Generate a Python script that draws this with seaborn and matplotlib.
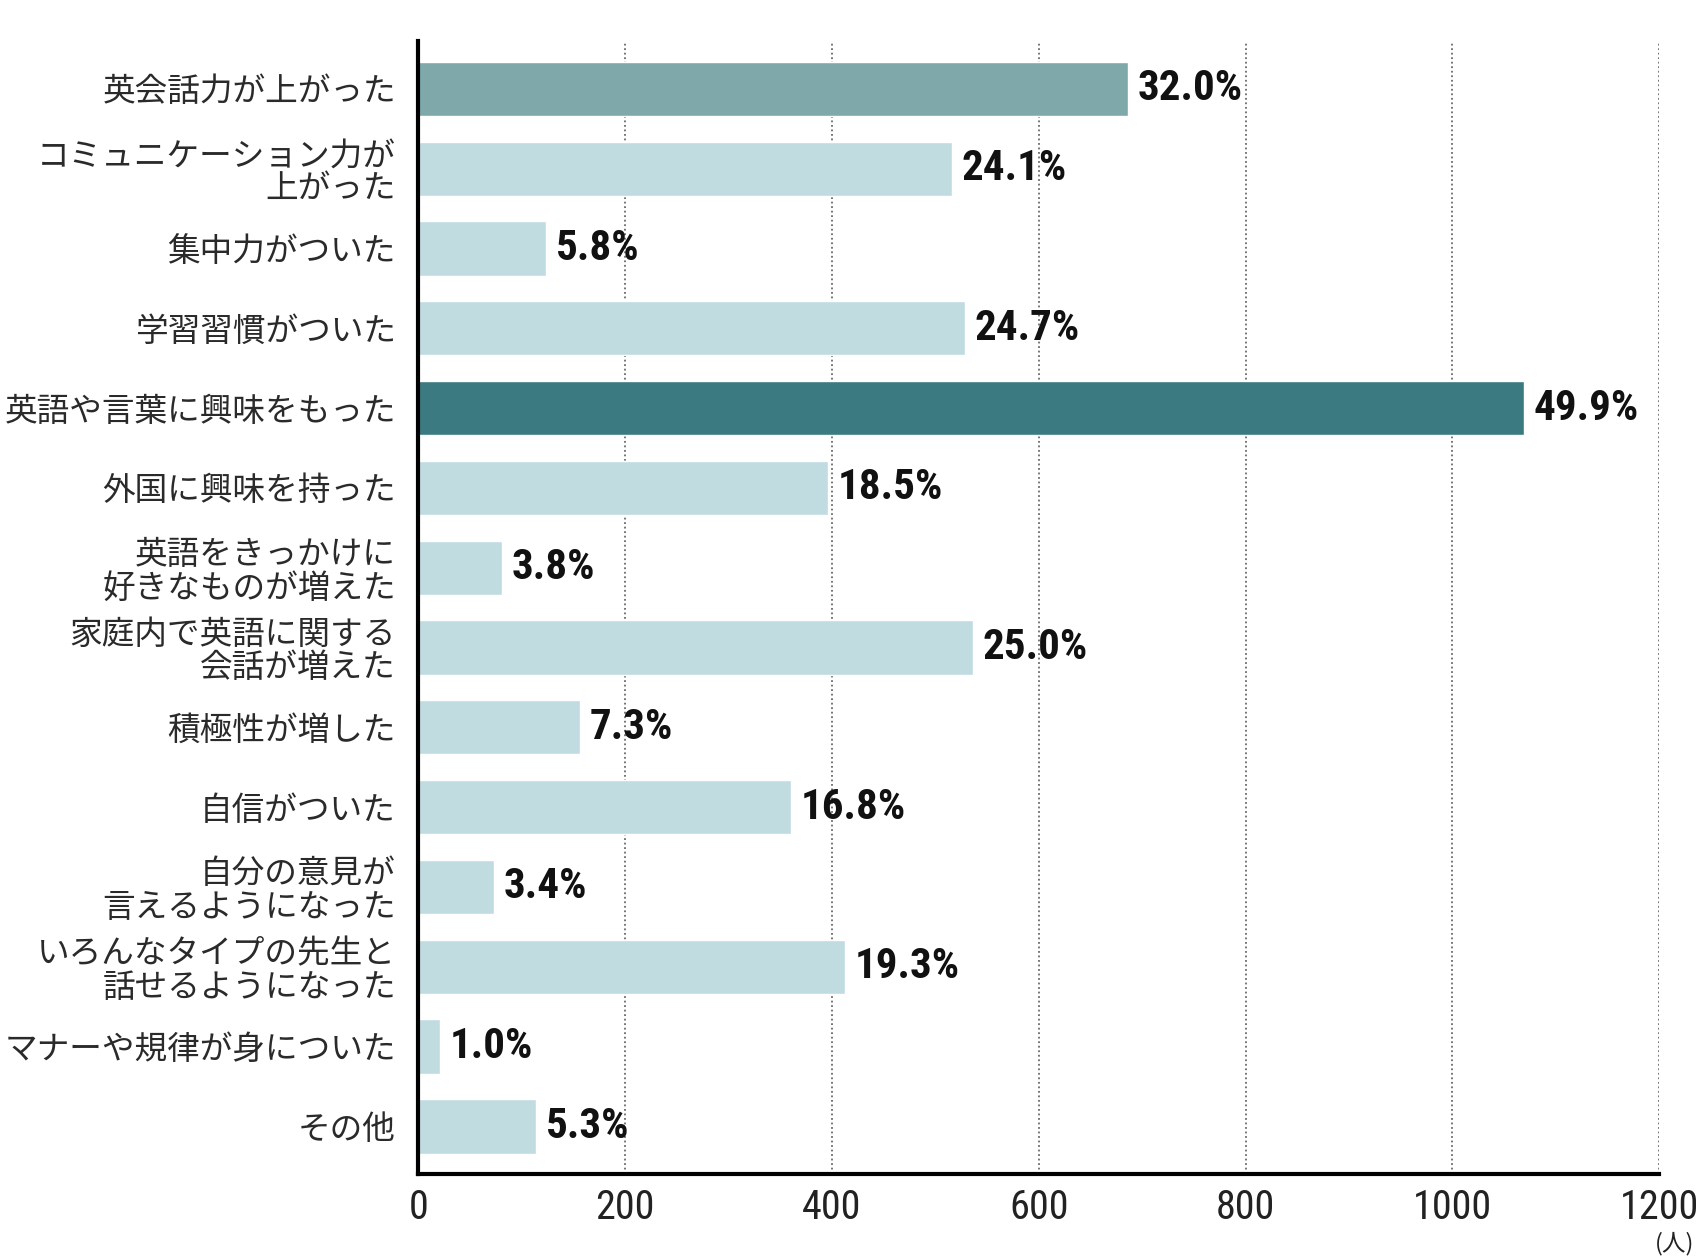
import os
import re
import matplotlib
matplotlib.use("Agg")
import matplotlib.pyplot as plt
from matplotlib import font_manager
import seaborn as sns
import pandas as pd

categories = [
    "英会話力が上がった",
    "コミュニケーション力が\n上がった",
    "集中力がついた",
    "学習習慣がついた",
    "英語や言葉に興味をもった",
    "外国に興味を持った",
    "英語をきっかけに\n好きなものが増えた",
    "家庭内で英語に関する\n会話が増えた",
    "積極性が増した",
    "自信がついた",
    "自分の意見が\n言えるようになった",
    "いろんなタイプの先生と\n話せるようになった",
    "マナーや規律が身についた",
    "その他",
]
values = [686, 516, 124, 529, 1069, 396, 81, 536, 156, 360, 73, 413, 21, 114]
pct_labels = ["32.0%", "24.1%", "5.8%", "24.7%", "49.9%", "18.5%", "3.8%",
              "25.0%", "7.3%", "16.8%", "3.4%", "19.3%", "1.0%", "5.3%"]
ticks = [0, 200, 400, 600, 800, 1000, 1200]
unit_label = "(人)"

c_light = "#C0DCE0"
c_mid = "#7EA8AA"
c_dark = "#3B7A80"
bar_colors = [c_mid] + [c_light] * 3 + [c_dark] + [c_light] * 9


def find_font(patterns):
    files = [f.fname for f in font_manager.fontManager.ttflist]
    for pat in patterns:
        for fn in files:
            if re.search(pat, os.path.basename(fn), re.I):
                return fn
    return None


bold_cond = find_font([r"^RobotoCondensed-Bold\.", r"^LiberationSansNarrow-Bold\.",
                       r"^DejaVuSansCondensed-Bold\.", r"^NotoSans-CondensedBold\.",
                       r"^OpenSans.*Condensed.*-Bold\.", r"(Condensed|Narrow).*Bold\."])
reg_cond = find_font([r"^RobotoCondensed-Regular\.", r"^LiberationSansNarrow-Regular\.",
                      r"^DejaVuSansCondensed\.", r"^NotoSans-Condensed\.",
                      r"^OpenSans.*Condensed.*-Regular\.", r"(Condensed|Narrow)(-Regular)?\.tt"])


def fp(fname, size, weight="normal"):
    if fname:
        return font_manager.FontProperties(fname=fname, size=size)
    return font_manager.FontProperties(family=["DejaVu Sans"], size=size * 0.85,
                                       weight=weight)


df = pd.DataFrame({"cat": categories, "val": values})

sns.set_theme(style="white")
plt.rcParams["font.family"] = ["Noto Sans CJK JP", "DejaVu Sans"]

fig = plt.figure(figsize=(17, 12.6), dpi=100)
ax = fig.add_axes([0.246, 0.068, 0.730, 0.8995])

sns.barplot(data=df, y="cat", x="val", hue="cat", palette=bar_colors,
            legend=False, orient="h", width=0.68, ax=ax, saturation=1)

ax.set_xlim(0, 1200)
ax.set_ylim(13.6, -0.6)
ax.set_xticks(ticks)
ax.set_xticklabels([str(t) for t in ticks])
tick_fp = fp(reg_cond, 29)
for lab in ax.get_xticklabels():
    lab.set_fontproperties(tick_fp)
    lab.set_color("#222222")
ax.set_xlabel("")
ax.set_ylabel("")
ax.tick_params(axis="y", length=0, pad=16, labelsize=23.5)
ax.tick_params(axis="x", length=0, pad=10)
for lab in ax.get_yticklabels():
    lab.set_linespacing(1.05)
    lab.set_color("#2a2a2a")

for t in ticks[1:]:
    ax.axvline(t, color="#6a6a6a", linestyle=(0, (1, 1.5)), linewidth=1.3, zorder=0)

for s in ["top", "right"]:
    ax.spines[s].set_visible(False)
for s in ["left", "bottom"]:
    ax.spines[s].set_color("black")
    ax.spines[s].set_linewidth(3)

pct_fp = fp(bold_cond, 31, weight="bold")
for i, (v, p) in enumerate(zip(values, pct_labels)):
    ax.annotate(p, xy=(v, i), xytext=(7, 0), textcoords="offset points",
                ha="left", va="center", fontproperties=pct_fp, color="#111111")

fig.text(0.985, 0.004, unit_label, ha="center", va="bottom", fontsize=17, color="#222222")

fig.savefig("out.png", dpi=100, facecolor="white")
